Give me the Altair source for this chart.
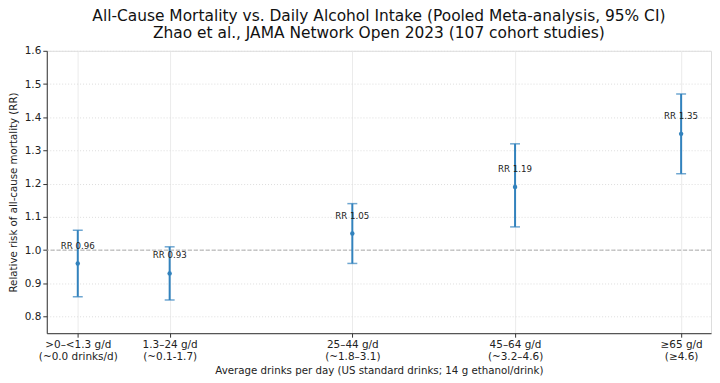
import altair as alt
import pandas as pd

# Data
groups = [">0–<1.3 g/d|(~0.0 drinks/d)", "1.3–24 g/d|(~0.1-1.7)", "25–44 g/d|(~1.8–3.1)",
          "45–64 g/d|(~3.2–4.6)", "≥65 g/d|(≥4.6)"]
xpos = [0.03, 0.86, 2.51, 3.98, 5.48]
rr = [0.96, 0.93, 1.05, 1.19, 1.35]
lo = [0.86, 0.85, 0.96, 1.07, 1.23]
hi = [1.06, 1.01, 1.14, 1.32, 1.47]
yticks = [0.8, 0.9, 1.0, 1.1, 1.2, 1.3, 1.4, 1.5, 1.6]

df = pd.DataFrame({"group": groups, "x": xpos, "rr": rr, "lo": lo, "hi": hi})
df["label"] = ["RR %.2f" % v for v in rr]

# label expression (multi-line tick labels)
expr = "''"
for xv, g in reversed(list(zip(xpos, groups))):
    a, b = g.split("|")
    expr = f"abs(datum.value - {xv}) < 0.01 ? ['{a}', '{b}'] : " + expr

blue = "#3282bd"
xscale = alt.Scale(domain=[-0.25, 5.75], nice=False, zero=False)
yscale = alt.Scale(domain=[0.75, 1.6], nice=False, zero=False)

base = alt.Chart(df)

xaxis = alt.Axis(values=xpos, labelExpr=expr, title="Average drinks per day (US standard drinks; 14 g ethanol/drink)",
                 grid=True, gridColor="#ebebeb", gridWidth=1, domainColor="#333333", tickColor="#333333",
                 labelFontSize=10.5, titleFontSize=10.3, labelColor="#222222", titleColor="#222222",
                 labelFont="DejaVu Sans", titleFont="DejaVu Sans", titleFontWeight="normal",
                 tickSize=4, labelPadding=2, titlePadding=4, labelLineHeight=12, labelOverlap=False)
yaxis = alt.Axis(values=yticks, tickCount=9, format=".1f", title="Relative risk of all-cause mortality (RR)",
                 grid=True, gridColor="#dddddd", gridDash=[1, 2], gridWidth=1, domainColor="#333333",
                 tickColor="#333333", labelFontSize=10.5, titleFontSize=10.3, labelColor="#222222",
                 titleColor="#222222", labelFont="DejaVu Sans", titleFont="DejaVu Sans",
                 titleFontWeight="normal", tickSize=4, labelPadding=2, titlePadding=6, labelOverlap=False)

ref = alt.Chart(pd.DataFrame({"y": [1.0]})).mark_rule(color="#aaaaaa", strokeDash=[4, 2], strokeWidth=1).encode(
    y=alt.Y("y:Q", scale=yscale, axis=yaxis))

bars = base.mark_rule(color=blue, strokeWidth=2).encode(
    x=alt.X("x:Q", scale=xscale, axis=xaxis),
    y=alt.Y("lo:Q", scale=yscale, axis=yaxis),
    y2="hi:Q")

cap_lo = base.mark_tick(color=blue, orient="horizontal", size=10, thickness=1.5).encode(
    x=alt.X("x:Q", scale=xscale, axis=xaxis), y=alt.Y("lo:Q", scale=yscale, axis=yaxis))
cap_hi = base.mark_tick(color=blue, orient="horizontal", size=10, thickness=1.5).encode(
    x=alt.X("x:Q", scale=xscale, axis=xaxis), y=alt.Y("hi:Q", scale=yscale, axis=yaxis))

pts = base.mark_circle(color=blue, size=20, opacity=1).encode(
    x=alt.X("x:Q", scale=xscale, axis=xaxis), y=alt.Y("rr:Q", scale=yscale, axis=yaxis))

txt = base.mark_text(dy=-18, fontSize=8.7, font="DejaVu Sans", color="#222222").encode(
    x=alt.X("x:Q", scale=xscale, axis=xaxis), y=alt.Y("rr:Q", scale=yscale, axis=yaxis), text="label:N")

chart = alt.layer(ref, bars, cap_lo, cap_hi, pts, txt).properties(
    width=668, height=284,
    title=alt.TitleParams(
        text=["All-Cause Mortality vs. Daily Alcohol Intake (Pooled Meta-analysis, 95% CI)",
              "Zhao et al., JAMA Network Open 2023 (107 cohort studies)"],
        fontSize=15.5, font="DejaVu Sans", fontWeight="normal", color="#111111",
        anchor="middle", lineHeight=17, offset=4),
).configure_view(stroke=None).configure(
    padding={"left": 0, "right": 0, "top": 0, "bottom": 0}
).configure_axis(labelOverlap=False)

chart.save("out.html", embed_options={"renderer": "svg", "actions": False})
